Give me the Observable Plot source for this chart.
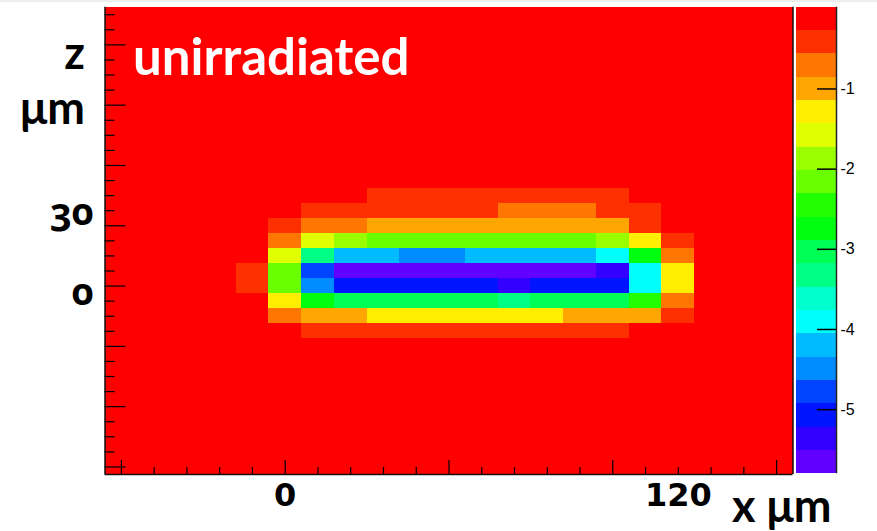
<!DOCTYPE html>
<html>
<head>
<meta charset="utf-8">
<script src="https://cdn.jsdelivr.net/npm/d3@7"></script>
<script src="https://cdn.jsdelivr.net/npm/@observablehq/plot@0.6"></script>
<style>
html, body { margin: 0; padding: 0; background: #fff; }
#wrap { position: relative; width: 877px; height: 531px; overflow: hidden; background: #fff; }
#wrap svg { position: absolute; top: 0; }
#topstrip { position: absolute; left: 0; top: 0; width: 877px; height: 2px; background: #eeeeee; }
</style>
</head>
<body>
<div id="wrap"><div id="topstrip"></div></div>
<script>
// ---- grid (cell centres, µm) ----
const xBins = [-50, -40, -30, -20, -10, 0, 10, 20, 30, 40, 50, 60, 70, 80, 90, 100, 110, 120, 130, 140, 150];
const zBins = [-60, -55, -50, -45, -40, -35, -30, -25, -20, -15, -10, -5, 0, 5, 10, 15, 20, 25, 30, 35, 40, 45, 50, 55, 60, 65, 70, 75, 80, 85, 90];
const xDomain = [-55, 155];
const zDomain = [-62.5, 92.5];

// ---- measured values (columns of the central block) ----
const xBlock = [-10, 0, 10, 20, 30, 40, 50, 60, 70, 80, 90, 100, 110, 120];
const rowZ30  = [-0.13, -0.13, -0.13, -0.13, -0.42, -0.42, -0.42, -0.42, -0.42, -0.42, -0.42, -0.42, -0.13, -0.13];
const rowZ25  = [-0.13, -0.13, -0.42, -0.42, -0.42, -0.42, -0.42, -0.42, -0.71, -0.71, -0.71, -0.42, -0.42, -0.13];
const rowZ20  = [-0.13, -0.42, -0.71, -0.71, -1.00, -1.00, -1.00, -1.00, -1.00, -1.00, -1.00, -1.00, -0.42, -0.13];
const rowZ15  = [-0.13, -0.71, -1.58, -1.87, -2.16, -2.16, -2.16, -2.16, -2.16, -2.16, -2.16, -1.87, -1.29, -0.42];
const rowZ10  = [-0.13, -1.58, -3.33, -4.20, -4.20, -4.49, -4.49, -4.20, -4.20, -4.20, -4.20, -3.91, -2.74, -0.71];
const rowZ5   = [-0.42, -2.16, -4.78, -5.65, -5.65, -5.65, -5.65, -5.65, -5.65, -5.65, -5.65, -5.36, -3.91, -1.29];
const rowZ0   = [-0.42, -2.16, -4.49, -5.07, -5.07, -5.07, -5.07, -5.07, -5.36, -5.07, -5.07, -5.07, -3.91, -1.29];
const rowZm5  = [-0.13, -1.29, -2.74, -3.04, -3.04, -3.04, -3.04, -3.04, -3.33, -3.04, -3.04, -3.04, -2.45, -0.71];
const rowZm10 = [-0.13, -0.71, -1.00, -1.00, -1.29, -1.29, -1.29, -1.29, -1.29, -1.29, -1.00, -1.00, -1.00, -0.42];
const rowZm15 = [-0.13, -0.13, -0.42, -0.42, -0.42, -0.42, -0.42, -0.42, -0.42, -0.42, -0.42, -0.42, -0.13, -0.13];
const backgroundValue = -0.13;

// ---- colour bar ----
const zMin = -5.8, zMax = 0.02, nLevels = 20;
const palette = ["#6200ff", "#3300ff", "#0014ff", "#0044ff", "#008bff", "#00bbff", "#00fffc", "#00ffcc", "#00ff85", "#00ff55",
                 "#00ff0e", "#22ff00", "#69ff00", "#99ff00", "#e0ff00", "#ffee00", "#ffa700", "#ff7700", "#ff3000", "#ff0000"];
const colorTicks = [-1, -2, -3, -4, -5];

// ---- axis ticks and annotations ----
const xMajor = [-50, 0, 50, 100, 150];
const xMinor = [-40, -30, -20, -10, 10, 20, 30, 40, 60, 70, 80, 90, 110, 120, 130, 140];
const zMajor = [-60, -40, -20, 0, 20, 40, 60, 80];
const zMinor = [-55, -50, -45, -35, -30, -25, -15, -10, -5, 5, 10, 15, 25, 30, 35, 45, 50, 55, 65, 70, 75, 85, 90];
const xLabelTicks = [0, 120];
const title = "unirradiated";
const yTitle = "z\nμm";
const xTitle = "x μm";

// ---- build table ----
const rowsByZ = new Map([[30, rowZ30], [25, rowZ25], [20, rowZ20], [15, rowZ15], [10, rowZ10], [5, rowZ5], [0, rowZ0], [-5, rowZm5], [-10, rowZm10], [-15, rowZm15]]);
const dx = (xDomain[1] - xDomain[0]) / xBins.length;
const dz = (zDomain[1] - zDomain[0]) / zBins.length;
const cells = [];
for (const z of zBins) for (const x of xBins) {
  const row = rowsByZ.get(z);
  const i = xBlock.indexOf(x);
  const v = row && i >= 0 ? row[i] : backgroundValue;
  cells.push({x, z, v});
}
const step = (zMax - zMin) / nLevels;
const thresholds = d3.range(1, nLevels).map(k => zMin + k * step);
const bands = d3.range(nLevels).map(k => ({lo: zMin + k * step, hi: zMin + (k + 1) * step}));
const colorOpts = {type: "threshold", domain: thresholds, range: palette};

const lato = {fontFamily: "Lato", fontWeight: "bold"};
const oldstyle = {fontFamily: "'Noto Sans', Lato", fontWeight: "bold", fontVariant: "oldstyle-nums"};

const main = Plot.plot({
  width: 877, height: 531,
  marginLeft: 104.5, marginRight: 84.5, marginTop: 6.7, marginBottom: 57,
  style: {background: "transparent", overflow: "visible"},
  x: {domain: xDomain},
  y: {domain: zDomain},
  color: colorOpts,
  marks: [
    Plot.rect(cells, {x1: d => d.x - dx / 2, x2: d => d.x + dx / 2, y1: d => d.z - dz / 2, y2: d => d.z + dz / 2, fill: "v", shapeRendering: "crispEdges"}),
    Plot.axisX(xMajor, {anchor: "bottom", tickSize: -14, tickFormat: () => "", label: null, stroke: "#000", strokeWidth: 1.2}),
    Plot.axisX(xMinor, {anchor: "bottom", tickSize: -7, tickFormat: () => "", label: null, stroke: "#000", strokeWidth: 1.2}),
    Plot.axisY(zMajor, {anchor: "left", tickSize: -21, tickFormat: () => "", label: null, stroke: "#000", strokeWidth: 1.2}),
    Plot.axisY(zMinor, {anchor: "left", tickSize: -10, tickFormat: () => "", label: null, stroke: "#000", strokeWidth: 1.2}),
    Plot.ruleX(xDomain, {stroke: "#111", strokeWidth: 1.5}),
    Plot.ruleY([zDomain[0]], {stroke: "#111", strokeWidth: 1.5}),
    Plot.text([title], {frameAnchor: "top-left", dx: 28, dy: 67.3, lineAnchor: "bottom", fill: "#fff", fontSize: 51, ...lato}),
    Plot.text([yTitle], {frameAnchor: "top-left", textAnchor: "end", dx: -20, dy: 116.3, lineAnchor: "bottom", lineHeight: 1.22, fill: "#000", fontSize: 45, ...lato}),
    Plot.text([30], {y: d => d, frameAnchor: "left", textAnchor: "end", dx: -11, dy: 29.8, lineAnchor: "bottom", fill: "#000", fontSize: 38, ...oldstyle}),
    Plot.text([0], {y: d => d, frameAnchor: "left", textAnchor: "end", dx: -11, dy: 19.4, lineAnchor: "bottom", fill: "#000", fontSize: 38, ...oldstyle}),
    Plot.text(xLabelTicks, {x: d => d, frameAnchor: "bottom", lineAnchor: "bottom", dy: 31.5, fill: "#000", fontSize: 32, fontFamily: "DejaVu Sans", fontWeight: "bold"}),
    Plot.text([xTitle], {frameAnchor: "bottom-right", textAnchor: "start", dx: -61, dy: 47.7, lineAnchor: "bottom", fill: "#000", fontSize: 45, ...lato})
  ]
});

const bar = Plot.plot({
  width: 81, height: 531,
  marginLeft: 0, marginRight: 41, marginTop: 6.7, marginBottom: 57.7,
  style: {background: "transparent", overflow: "visible"},
  x: {domain: [0, 1], axis: null},
  y: {domain: [zMin, zMax]},
  color: colorOpts,
  marks: [
    Plot.rect(bands, {x1: 0, x2: 1, y1: "lo", y2: "hi", fill: d => (d.lo + d.hi) / 2, shapeRendering: "crispEdges"}),
    Plot.axisY(colorTicks, {anchor: "right", tickSize: -20, tickPadding: 24, tickFormat: d => String(d), label: null,
      stroke: "#000", strokeWidth: 1.5, fill: "#000", fontSize: 16, fontFamily: "Liberation Sans"}),
    Plot.ruleX([1], {stroke: "#222", strokeWidth: 1.5})
  ]
});
bar.style.left = "796px";

const wrap = document.getElementById("wrap");
main.style.left = "0px";
wrap.appendChild(main);
wrap.appendChild(bar);
</script>
</body>
</html>
